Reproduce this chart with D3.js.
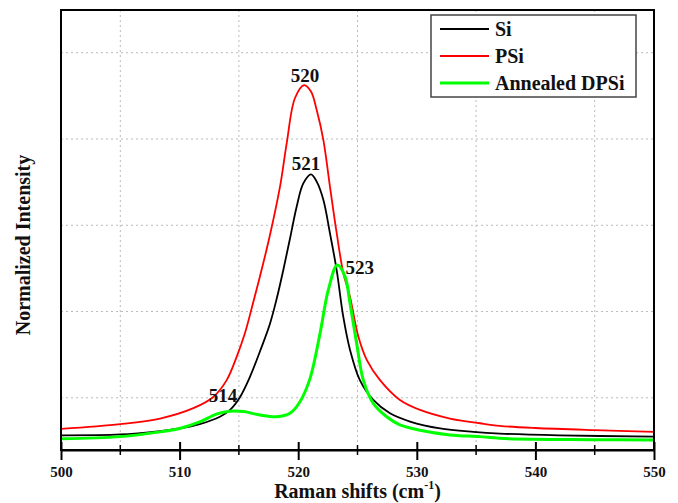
<!DOCTYPE html>
<html>

<head>
  <meta charset="utf-8">
  <title>Raman</title>
  <script type="text/javascript" src="https://cdn.jsdelivr.net/npm/d3@7"></script>
  <style>
    body { margin: 0; background: #fff; }
    text { font-family: "Liberation Serif", "Times New Roman", serif; font-weight: bold; }
  </style>
</head>

<body>
  <script type="text/javascript">

    // Data: [Raman shift, normalized intensity]
    const siPoints = [
      [500, 0.113], [505, 0.115], [508.35, 0.123], [510, 0.129], [511.7, 0.139],
      [513.4, 0.156], [514.25, 0.172], [515.1, 0.202], [515.94, 0.249], [516.78, 0.308],
      [517.6, 0.37], [518.19, 0.43], [518.75, 0.497], [519.3, 0.568], [519.87, 0.643],
      [520.43, 0.697], [521.08, 0.718], [521.56, 0.701], [522.12, 0.659], [522.68, 0.581],
      [523.25, 0.495], [523.8, 0.388], [524.37, 0.311], [525.2, 0.241], [526.33, 0.195],
      [527.74, 0.164], [529.43, 0.145], [531.96, 0.129], [534.77, 0.121], [537, 0.117],
      [542, 0.113], [550, 0.11]
    ];
    const psiPoints = [
      [500, 0.128], [505, 0.139], [508.35, 0.152], [511.16, 0.176], [512.84, 0.202],
      [513.97, 0.241], [514.81, 0.295], [515.5, 0.349], [516.1, 0.41], [516.78, 0.482],
      [517.6, 0.575], [518.47, 0.69], [519.03, 0.79], [519.73, 0.895], [520.5, 0.925],
      [521.08, 0.91], [521.56, 0.867], [522.12, 0.798], [522.68, 0.689], [523.25, 0.581],
      [523.8, 0.49], [524.37, 0.434], [525.07, 0.342], [525.78, 0.288], [526.9, 0.241],
      [528.58, 0.195], [530.27, 0.172], [532.8, 0.152], [535.33, 0.141], [537, 0.135],
      [540, 0.13], [545, 0.125], [550, 0.121]
    ];
    const dpsiPoints = [
      [500, 0.105], [505, 0.11], [508.35, 0.121], [510, 0.129], [511.7, 0.144],
      [513.1, 0.162], [514.25, 0.169], [515.4, 0.168], [516.78, 0.16], [518.19, 0.156],
      [519.3, 0.164], [520.15, 0.191], [521.0, 0.245], [521.84, 0.349], [522.54, 0.45],
      [523.3, 0.508], [523.95, 0.481], [524.37, 0.419], [524.93, 0.326], [525.49, 0.241],
      [526.33, 0.187], [527.46, 0.156], [528.58, 0.137], [530.27, 0.125], [532.8, 0.114],
      [535.33, 0.11], [537, 0.106], [545, 0.103], [550, 0.102]
    ];

    const seriesNames = ["Si", "PSi", "Annealed DPSi"];
    const seriesColors = ["#000000", "#ff0000", "#00ff00"];
    const seriesWidths = [1.8, 1.8, 3];

    // Peak labels: text and where it sits in data units
    const peakTexts = ["520", "521", "523", "514"];
    const peakX = [520.57, 520.66, 525.19, 513.66];
    const peakY = [0.932, 0.728, 0.486, 0.19];

    const xTicks = [500, 510, 520, 530, 540, 550];
    const xMinorTicks = [505, 515, 525, 535, 545];
    const yGrid = [0.2, 0.4, 0.6, 0.8, 1.0];

    // Width og height
    const margin = { top: 10, right: 24, bottom: 53, left: 61 };
    const w = 678 - margin.left - margin.right;
    const h = 503 - margin.top - margin.bottom;

    const xScale = d3.scaleLinear().domain([500, 550]).range([0, w]);
    const yScale = d3.scaleLinear().domain([0.079, 1.099]).range([h, 0]);

    const svg = d3.select("body")
      .append("svg")
      .attr("width", 678)
      .attr("height", 503)
      .append("g")
      .attr("transform", "translate(" + margin.left + "," + margin.top + ")");

    svg.append("clipPath").attr("id", "plot")
      .append("rect").attr("width", w).attr("height", h);

    // Grid (dotted)
    svg.selectAll(".vgrid")
      .data(xMinorTicks)
      .enter()
      .append("line")
      .attr("x1", d => xScale(d)).attr("x2", d => xScale(d))
      .attr("y1", 0).attr("y2", h)
      .attr("stroke", "#bbb").attr("stroke-dasharray", "2,3");

    svg.selectAll(".hgrid")
      .data(yGrid)
      .enter()
      .append("line")
      .attr("x1", 0).attr("x2", w)
      .attr("y1", d => yScale(d)).attr("y2", d => yScale(d))
      .attr("stroke", "#bbb").attr("stroke-dasharray", "2,3");

    // Curves
    const line = d3.line()
      .x(d => xScale(d[0]))
      .y(d => yScale(d[1]))
      .curve(d3.curveCatmullRom.alpha(0.5));

    const allSeries = [siPoints, psiPoints, dpsiPoints];
    svg.append("g").attr("clip-path", "url(#plot)")
      .selectAll("path")
      .data(allSeries)
      .enter()
      .append("path")
      .attr("d", d => line(d))
      .attr("fill", "none")
      .attr("stroke", (d, i) => seriesColors[i])
      .attr("stroke-width", (d, i) => seriesWidths[i])
      .attr("stroke-linejoin", "round");

    // Frame
    svg.append("rect")
      .attr("width", w).attr("height", h)
      .attr("fill", "none").attr("stroke", "#000").attr("stroke-width", 2);

    // X-akse: ticks crossing the axis line
    const xAxis = d3.axisBottom(xScale).tickValues(xTicks).tickSize(10).tickSizeOuter(0).tickFormat(d3.format("d"));
    const gx = svg.append("g")
      .attr("transform", "translate(0," + h + ")")
      .call(xAxis);
    gx.select(".domain").attr("stroke-width", 2);
    gx.selectAll(".tick line").attr("stroke-width", 2);
    gx.selectAll(".tick text")
      .attr("y", 27).attr("dy", 0)
      .attr("font-size", 15)
      .attr("fill", "#111");

    const xAxisUp = d3.axisTop(xScale).tickValues(xTicks).tickSize(8).tickSizeOuter(0).tickFormat("");
    const gxu = svg.append("g")
      .attr("transform", "translate(0," + h + ")")
      .call(xAxisUp);
    gxu.select(".domain").remove();
    gxu.selectAll(".tick line").attr("stroke-width", 2);

    svg.selectAll(".minor")
      .data(xMinorTicks)
      .enter()
      .append("line")
      .attr("x1", d => xScale(d)).attr("x2", d => xScale(d))
      .attr("y1", h - 5).attr("y2", h + 5)
      .attr("stroke", "#000").attr("stroke-width", 1.5);

    // Axis titles
    const xTitle = svg.append("text")
      .attr("x", w / 2)
      .attr("y", h + 48)
      .attr("text-anchor", "middle")
      .attr("font-size", 20)
      .attr("fill", "#111");
    xTitle.append("tspan").text("Raman shifts (cm");
    xTitle.append("tspan").text("-1").attr("font-size", 12).attr("dy", -9);
    xTitle.append("tspan").text(")").attr("dy", 9);

    svg.append("text")
      .attr("transform", "translate(" + (30 - margin.left) + "," + (245 - margin.top) + ") rotate(-90)")
      .attr("text-anchor", "middle")
      .attr("font-size", 20)
      .attr("fill", "#111")
      .text("Normalized Intensity");

    // Peak labels
    svg.selectAll(".peak")
      .data(peakTexts)
      .enter()
      .append("text")
      .attr("x", (d, i) => xScale(peakX[i]))
      .attr("y", (d, i) => yScale(peakY[i]))
      .attr("text-anchor", "middle")
      .attr("font-size", 19)
      .attr("fill", "#111")
      .text(d => d);

    // Legend
    const legend = svg.append("g").attr("transform", "translate(" + (431 - margin.left) + "," + (15 - margin.top) + ")");
    legend.append("rect")
      .attr("width", 205).attr("height", 82)
      .attr("fill", "#fff").attr("stroke", "#444").attr("stroke-width", 1.5);

    const rows = legend.selectAll(".row")
      .data(seriesNames)
      .enter()
      .append("g")
      .attr("transform", (d, i) => "translate(0," + (14 + i * 27) + ")");
    rows.append("line")
      .attr("x1", 9).attr("x2", 58)
      .attr("stroke", (d, i) => seriesColors[i])
      .attr("stroke-width", (d, i) => seriesWidths[i]);
    rows.append("text")
      .attr("x", 64).attr("y", 7)
      .attr("font-size", 20)
      .attr("fill", "#111")
      .text(d => d);
  </script>
</body>

</html>
